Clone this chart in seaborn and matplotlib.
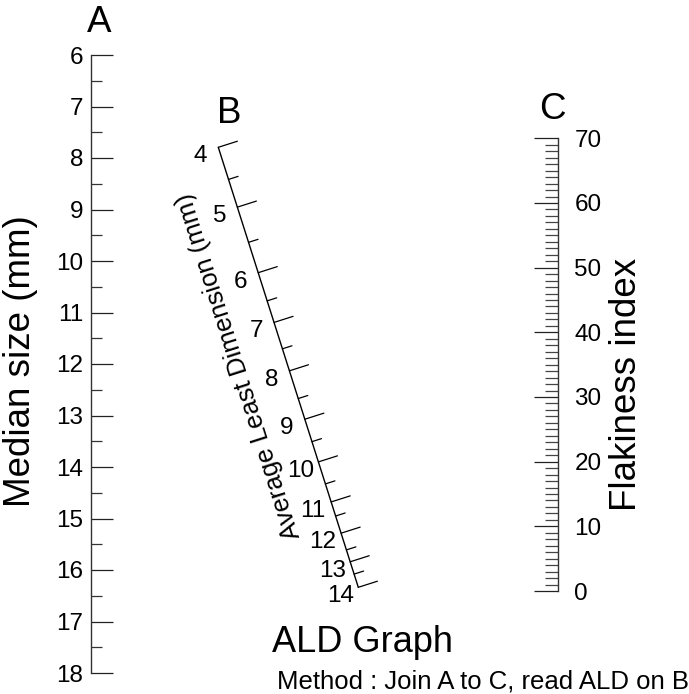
import numpy as np
import pandas as pd
import matplotlib
matplotlib.use("Agg")
import matplotlib.pyplot as plt
import seaborn as sns
from matplotlib.ticker import MultipleLocator

# scale A: median size (mm)
a_major = [6, 7, 8, 9, 10, 11, 12, 13, 14, 15, 16, 17, 18]
# scale C: flakiness index
c_major = [0, 10, 20, 30, 40, 50, 60, 70]
# scale B: average least dimension (mm), every 0.5, labels on whole numbers
b_values = [4, 4.5, 5, 5.5, 6, 6.5, 7, 7.5, 8, 8.5, 9, 9.5, 10,
            10.5, 11, 11.5, 12, 12.5, 13, 13.5, 14]
b_labels = [4, 5, 6, 7, 8, 9, 10, 11, 12, 13, 14]
# where each B value sits along the slanted B line (0 = top end, 1 = bottom end)
b_frac = [0.0, 0.073, 0.136, 0.216, 0.285, 0.349, 0.398, 0.458, 0.508, 0.571, 0.618,
          0.669, 0.715, 0.765, 0.806, 0.838, 0.877, 0.915, 0.942, 0.970, 1.0]

W, H = 689, 694
sns.set_theme(style="white")
plt.rcParams["font.family"] = ["Liberation Sans", "DejaVu Sans"]
plt.rcParams["text.color"] = "black"
plt.rcParams["ytick.color"] = "black"
plt.rcParams["ytick.labelcolor"] = "black"

fig = plt.figure(figsize=(W / 100, H / 100), dpi=100)

def fig_box(x, top, width, bottom):
    return [x / W, 1 - bottom / H, width / W, (bottom - top) / H]

TICK_FS = 17.5

# ---- scale A (left) ----
axA = fig.add_axes(fig_box(91, 55, 40, 673))
axA.set_ylim(max(a_major), min(a_major))
axA.set_xlim(0, 1)
for s in ["top", "right", "bottom"]:
    axA.spines[s].set_visible(False)
axA.spines["left"].set_color("#333333")
axA.spines["left"].set_linewidth(1.0)
axA.set_xticks([])
axA.set_yticks(a_major)
axA.set_yticklabels([str(v) for v in a_major])
axA.yaxis.set_minor_locator(MultipleLocator(0.5))
axA.tick_params(axis="y", which="major", direction="in", length=15.8, width=0.9,
                color="#222222", labelcolor="black", pad=5.8, labelsize=TICK_FS,
                left=True, labelleft=True)
axA.tick_params(axis="y", which="minor", direction="in", length=7.9, width=0.9,
                color="#333333", left=True)
axA.patch.set_alpha(0)

# ---- scale C (right) ----
axC = fig.add_axes(fig_box(500, 138.3, 58.3, 591))
axC.set_ylim(min(c_major), max(c_major))
axC.set_xlim(0, 1)
for s in ["top", "left", "bottom"]:
    axC.spines[s].set_visible(False)
axC.spines["right"].set_color("#333333")
axC.spines["right"].set_linewidth(1.0)
axC.set_xticks([])
axC.set_yticks(c_major)
axC.set_yticklabels([str(v) for v in c_major])
axC.yaxis.set_minor_locator(MultipleLocator(1))
axC.tick_params(axis="y", which="major", direction="in", length=17.3, width=0.9,
                color="#222222", labelcolor="black", pad=11.5, labelsize=TICK_FS,
                left=False, right=True, labelleft=False, labelright=True)
axC.tick_params(axis="y", which="minor", direction="in", length=9.4, width=0.9,
                color="#444444", left=False, right=True)
axC.patch.set_alpha(0)

# ---- overlay in pixel coordinates: scale B and text ----
ov = fig.add_axes([0, 0, 1, 1])
ov.set_xlim(0, W)
ov.set_ylim(H, 0)
ov.axis("off")
ov.patch.set_alpha(0)

b0 = np.array([218.3, 147.3])
b1 = np.array([358.3, 587.3])
d = (b1 - b0) / np.linalg.norm(b1 - b0)
perp = np.array([d[1], -d[0]])  # points right / up

line_df = pd.DataFrame({"x": [b0[0], b1[0]], "y": [b0[1], b1[1]]})
sns.lineplot(data=line_df, x="x", y="y", ax=ov, color="black", lw=1.0, sort=False)

for v, f in zip(b_values, b_frac):
    p = b0 + f * (b1 - b0)
    major = float(v).is_integer()
    L = 20 if major else 10
    q = p + perp * L
    ov.plot([p[0], q[0]], [p[1], q[1]], color="black", lw=0.9)
    if major and int(v) in b_labels:
        ov.text(p[0] - 18, p[1] + 9, str(int(v)), ha="center", va="center", fontsize=TICK_FS)

ang = np.degrees(np.arctan2(b1[1] - b0[1], b1[0] - b0[0]))
ov.text(239, 366, "Average Least Dimension (mm)", rotation=180 - ang,
        rotation_mode="anchor", ha="center", va="center", fontsize=18.5)

ov.text(99, 22, "A", ha="center", va="center", fontsize=26.5)
ov.text(229, 113, "B", ha="center", va="center", fontsize=26.5)
ov.text(552, 109, "C", ha="center", va="center", fontsize=26.5)
ov.text(21, 361, "Median size (mm)", rotation=90, ha="center", va="center", fontsize=26.5)
ov.text(627, 384, "Flakiness index", rotation=90, ha="center", va="center", fontsize=26.5)
ov.text(272, 642, "ALD Graph", ha="left", va="center", fontsize=26)
ov.text(277, 681, "Method : Join A to C, read ALD on B", ha="left", va="center", fontsize=18.5)

fig.savefig("out.png", dpi=100, facecolor="white")
